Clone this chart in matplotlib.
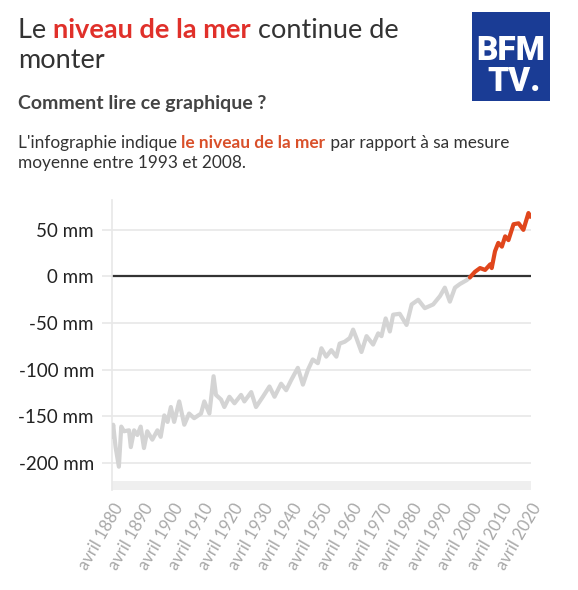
import numpy as np
import matplotlib.pyplot as plt
from matplotlib.patches import Rectangle

# ======================= Data =======================
# reconstructed sea level, mm relative to the 1993-2008 mean
gray_years = [1880.0, 1880.4, 1881.2, 1882.3, 1883.1, 1884.0, 1885.7, 1886.3, 1887.4, 1888.5,
              1889.6, 1890.7, 1891.8, 1893.5, 1895.2, 1896.3, 1897.5, 1898.6, 1899.7, 1900.8,
              1902.5, 1904.2, 1905.8, 1907.5, 1909.8, 1910.9, 1912.6, 1914.0, 1914.8, 1916.5,
              1917.6, 1919.3, 1921.0, 1923.2, 1924.3, 1926.6, 1928.2, 1930.5, 1932.7, 1934.4,
              1936.6, 1938.3, 1940.0, 1942.2, 1943.9, 1945.6, 1947.2, 1948.9, 1950.1, 1951.7,
              1953.4, 1955.1, 1956.2, 1957.9, 1959.6, 1960.7, 1961.8, 1963.5, 1965.2, 1967.4,
              1969.1, 1970.2, 1971.6, 1973.0, 1974.1, 1976.3, 1978.6, 1980.3, 1982.5, 1984.7,
              1987.5, 1989.8, 1991.4, 1993.1, 1994.8, 1996.5, 1998.7, 1999.8]
gray_mm = [-172, -159, -183, -204, -161, -166, -165, -183, -165, -170,
           -161, -184, -166, -175, -165, -172, -149, -156, -140, -156,
           -134, -159, -147, -152, -147, -134, -147, -107, -127, -132,
           -140, -129, -136, -127, -134, -124, -140, -129, -118, -129,
           -115, -122, -111, -98, -116, -100, -89, -93, -77, -86,
           -79, -86, -72, -70, -66, -57, -66, -81, -64, -73,
           -61, -64, -45, -59, -41, -40, -52, -30, -25, -34,
           -30, -21, -12, -27, -12, -8, -4, -1]

# satellite era, highlighted in red
red_years = [1999.8, 2001.5, 2003.2, 2004.9, 2006.6, 2007.1, 2008.2, 2009.3, 2010.5, 2011.6,
             2012.7, 2014.4, 2016.1, 2017.7, 2019.4, 2020.0]
red_mm = [-1, 5, 9, 7, 13, 9, 27, 36, 32, 43, 39, 56, 57, 50, 68, 64]

y_ticks = [-200, -150, -100, -50, 0, 50]
x_ticks = list(range(1880, 2021, 10))
# ========================================================================

W, H = 578, 590
FONT = "Lato"
DARK = "#333333"
RED = "#e0302a"
ORANGE = "#d9502a"

fig = plt.figure(figsize=(W / 100, H / 100), dpi=100)
renderer = fig.canvas.get_renderer()


def fx(x):
    return x / W


def fy(y):
    return 1 - y / H


def rich_line(x, y, pieces, size):
    # draw text pieces one after another on the same baseline
    for s, color, weight in pieces:
        t = fig.text(fx(x), fy(y), s, fontsize=size, color=color, fontweight=weight,
                     family=FONT, va="baseline", ha="left")
        bb = t.get_window_extent(renderer)
        x = bb.x1


# header texts
rich_line(18, 38, [("Le ", DARK, "normal"), ("niveau de la mer", RED, "bold"),
                   (" continue de", DARK, "normal")], 19.5)
rich_line(18, 68, [("monter", DARK, "normal")], 19.5)
rich_line(18, 109, [("Comment lire ce graphique ?", "#444444", "bold")], 14)
rich_line(18, 148, [("L'infographie indique ", DARK, "normal"),
                    ("le niveau de la mer", ORANGE, "bold"),
                    (" par rapport à sa mesure", DARK, "normal")], 12.4)
rich_line(18, 168, [("moyenne entre 1993 et 2008.", DARK, "normal")], 12.4)

# logo
fig.patches.append(Rectangle((fx(472), fy(101)), 78 / W, 89 / H, transform=fig.transFigure,
                             facecolor="#1a3c95", edgecolor="none"))
fig.text(fx(511), fy(60), "BFM", fontsize=24, color="white", fontweight="heavy",
         family="Roboto", ha="center", va="baseline")
fig.text(fx(514), fy(91), "TV.", fontsize=24, color="white", fontweight="heavy",
         family="Roboto", ha="center", va="baseline")

# chart
ax = fig.add_axes([fx(112), fy(490), (531 - 112) / W, 290 / H])
ax.set_xlim(1880, 2020)
ax.set_ylim(-229, 82)

ax.axhspan(-229, -219.5, color="#efefef", lw=0, zorder=0)
ax.set_yticks(y_ticks)
ax.set_yticklabels([f"{v} mm" for v in y_ticks], family=FONT, fontsize=13.5, color="#222222")
ax.yaxis.grid(True, color="#e8e8e8", lw=1.2, zorder=0)
ax.tick_params(axis="y", length=7, width=1.2, color="#e8e8e8", pad=6)
ax.axhline(0, color=DARK, lw=1.6, zorder=2)
ax.get_yticklines()[8].set_color(DARK)

ax.set_xticks([x + 0.25 for x in x_ticks])
ax.set_xticklabels([f"avril {x}" for x in x_ticks], rotation=60, ha="right",
                   rotation_mode="anchor", family=FONT, fontsize=12, color="#a8a8a8")
ax.tick_params(axis="x", length=0, pad=8)

for side in ["top", "right", "bottom"]:
    ax.spines[side].set_visible(False)
ax.spines["left"].set_color("#e8e8e8")
ax.spines["left"].set_linewidth(1.2)

ax.plot(gray_years, gray_mm, color="#d4d4d4", lw=3, solid_joinstyle="round",
        solid_capstyle="round", zorder=3)
ax.plot(red_years, red_mm, color="#e0461c", lw=3, solid_joinstyle="round",
        solid_capstyle="round", zorder=4)

fig.savefig("out.png", dpi=100)
